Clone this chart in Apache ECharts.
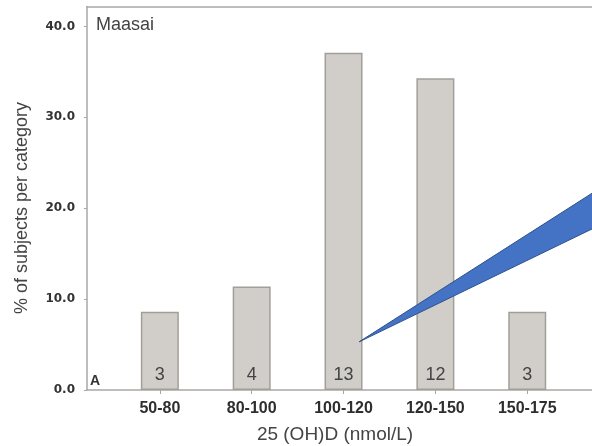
<!DOCTYPE html>
<html>
<head>
<meta charset="utf-8">
<script src="https://cdn.jsdelivr.net/npm/echarts@6/dist/echarts.min.js"></script>
<style>
  html, body { margin: 0; padding: 0; background: #fff; }
  #chart { width: 592px; height: 446px; }
</style>
</head>
<body>
<div id="chart"></div>
<script>
// 25(OH)D categories, share of subjects (%) and subject counts per category
const categories = ['50-80', '80-100', '100-120', '120-150', '150-175'];
const percentValues = [8.6, 11.4, 37.1, 34.3, 8.6];
const subjectCounts = [3, 4, 13, 12, 3];
const yTicks = [0, 10, 20, 30, 40];

const font = '"Liberation Sans", Arial, sans-serif';
const wideFont = '"DejaVu Sans", sans-serif';
const axisGray = '#aaa6a2';
const positions = categories.map((c, i) => i);
const xMin = -0.793, xMax = 4.705;

const chart = echarts.init(document.getElementById('chart'), null, { renderer: 'canvas' });

chart.setOption({
  animation: false,
  backgroundColor: '#ffffff',
  grid: { left: 87, right: 0, top: 6.5, bottom: 56 },
  xAxis: [{
    type: 'value',
    min: xMin,
    max: xMax,
    splitLine: { show: false },
    axisLine: { show: true, onZero: false, lineStyle: { color: axisGray, width: 1.5 } },
    axisTick: { show: true, length: 4, customValues: positions, lineStyle: { color: axisGray } },
    axisLabel: {
      customValues: positions,
      formatter: v => categories[Math.round(v)],
      margin: 11,
      fontFamily: font, fontSize: 16, fontWeight: 'bold', color: '#2e2e2e'
    }
  }, {
    // top frame line
    type: 'value',
    position: 'top',
    min: xMin,
    max: xMax,
    splitLine: { show: false },
    axisLine: { show: true, onZero: false, lineStyle: { color: axisGray, width: 1.5 } },
    axisTick: { show: false },
    axisLabel: { show: false }
  }],
  yAxis: {
    type: 'value',
    min: 0,
    max: 42.2,
    splitLine: { show: false },
    axisLine: { show: true, onZero: false, lineStyle: { color: axisGray, width: 1.5 } },
    axisTick: { show: true, length: 3, customValues: yTicks, lineStyle: { color: axisGray } },
    axisLabel: {
      customValues: yTicks,
      formatter: v => v.toFixed(1),
      margin: 12,
      fontFamily: wideFont, fontSize: 12, fontWeight: 'bold', color: '#333'
    }
  },
  series: [{
    type: 'bar',
    barWidth: 38,
    data: percentValues.map((v, i) => [i, v]),
    itemStyle: { color: '#d1cec9', borderColor: '#a29f9a', borderWidth: 1.5 },
    label: {
      show: true,
      position: 'insideBottom',
      distance: 6,
      formatter: p => String(subjectCounts[p.dataIndex]),
      fontFamily: font, fontSize: 18, color: '#444'
    }
  }]
});

// callout pointer anchored inside the 100-120 bar
const tip = chart.convertToPixel({ gridIndex: 0 }, [2.17, 5.3]);
chart.setOption({
  graphic: [
    {
      type: 'text', x: 96, y: 16,
      style: { text: 'Maasai', font: '18px ' + font, fill: '#444' }
    },
    {
      type: 'text', x: 90, y: 388,
      style: { text: 'A', font: 'bold 14px ' + font, fill: '#333', verticalAlign: 'bottom' }
    },
    {
      type: 'text', x: 335, y: 435,
      style: { text: '25 (OH)D (nmol/L)', font: '19px ' + font, fill: '#444', align: 'center', verticalAlign: 'middle' }
    },
    {
      type: 'text', x: 22, y: 208, rotation: Math.PI / 2,
      style: { text: '% of subjects per category', font: '18px ' + font, fill: '#444', align: 'center', verticalAlign: 'middle' }
    },
    {
      type: 'polygon',
      shape: { points: [[tip[0], tip[1]], [594, 192], [594, 228]] },
      style: { fill: '#4472c4', stroke: '#2f528f', lineWidth: 1 },
      z: 100
    }
  ]
});
</script>
</body>
</html>
